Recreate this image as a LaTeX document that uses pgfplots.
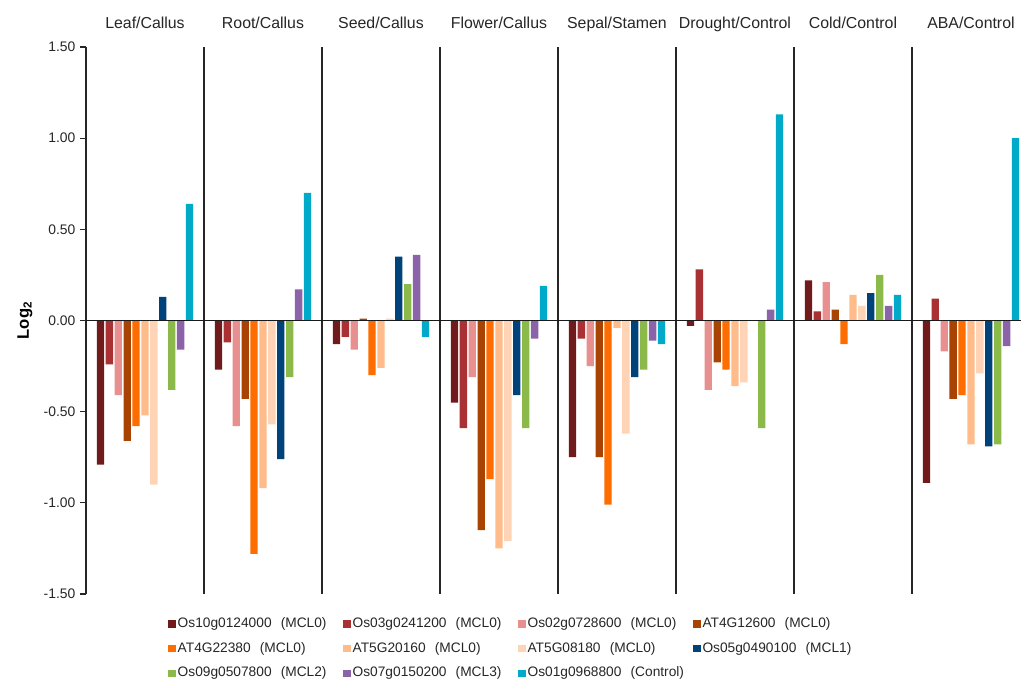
\documentclass[border=0pt]{standalone}
\usepackage{fontspec}
\setmainfont{Liberation Sans}
\usepackage{pgfplots}
\usepackage{pgfplotstable}
\pgfplotsset{compat=1.18}
\definecolor{c1}{RGB}{112,26,27}
\definecolor{c2}{RGB}{169,48,51}
\definecolor{c3}{RGB}{232,144,143}
\definecolor{c4}{RGB}{168,67,3}
\definecolor{c5}{RGB}{255,109,0}
\definecolor{c6}{RGB}{255,188,138}
\definecolor{c7}{RGB}{255,211,181}
\definecolor{c8}{RGB}{0,66,122}
\definecolor{c9}{RGB}{139,186,74}
\definecolor{c10}{RGB}{138,99,168}
\definecolor{c11}{RGB}{0,170,200}
\pgfplotstableread{
g   s1    s2    s3    s4    s5    s6    s7    s8    s9    s10   s11
0.5 -0.79 -0.24 -0.41 -0.66 -0.58 -0.52 -0.90  0.13 -0.38 -0.16  0.64
1.5 -0.27 -0.12 -0.58 -0.43 -1.28 -0.92 -0.57 -0.76 -0.31  0.17  0.70
2.5 -0.13 -0.09 -0.16  0.01 -0.30 -0.26  0.01  0.35  0.20  0.36 -0.09
3.5 -0.45 -0.59 -0.31 -1.15 -0.87 -1.25 -1.21 -0.41 -0.59 -0.10  0.19
4.5 -0.75 -0.10 -0.25 -0.75 -1.01 -0.04 -0.62 -0.31 -0.27 -0.11 -0.13
5.5 -0.03  0.28 -0.38 -0.23 -0.27 -0.36 -0.34  0.00 -0.59  0.06  1.13
6.5  0.22  0.05  0.21  0.06 -0.13  0.14  0.08  0.15  0.25  0.08  0.14
7.5 -0.89  0.12 -0.17 -0.43 -0.41 -0.68 -0.29 -0.69 -0.68 -0.14  1.00
}\datatable
\begin{document}
\begin{tikzpicture}
\useasboundingbox (0,0) rectangle (765.75pt,510pt);
\begin{axis}[
  at={(64.5pt,64.5pt)}, anchor=south west,
  scale only axis, width=701.25pt, height=410.25pt,
  xmin=0, xmax=7.924, ymin=-1.5, ymax=1.5,
  axis y line*=left, axis x line*=top,
  x axis line style={draw=none},
  y axis line style={black!85, line width=0.8pt},
  xtick={0.5,1.5,2.5,3.5,4.5,5.5,6.5,7.5},
  xticklabels={Leaf/Callus,Root/Callus,Seed/Callus,Flower/Callus,Sepal/Stamen,Drought/Control,Cold/Control,ABA/Control},
  xticklabel style={font=\fontsize{11.9}{14}\selectfont, anchor=base, yshift=9.5pt, text=black!85},
  major x tick style={draw=none},
  ytick={-1.5,-1,-0.5,0,0.5,1,1.5},
  tick align=outside,
  major tick length=4.5pt,
  major y tick style={black!85, line width=0.8pt},
  /pgf/number format/assume math mode=true,
  yticklabel style={/pgf/number format/fixed, /pgf/number format/fixed zerofill, /pgf/number format/precision=2, font=\fontsize{10.4}{12}\selectfont, text=black!85},
  ylabel={Log\textsubscript{2}},
  every axis y label/.style={at={(rel axis cs:0,0.5)}, xshift=-45.75pt, rotate=90, anchor=center, font=\fontsize{12.5}{14}\selectfont\bfseries},
  ybar, bar width=0.062,
  legend image code/.code={\fill[#1] (0pt,-2.8pt) rectangle (5.6pt,2.8pt);},
  legend columns=4,
  legend cell align=left,
  legend style={draw=none, fill=none, at={(0,0)}, anchor=north west, xshift=61.5pt, yshift=-13pt,
    font=\fontsize{10.3}{12}\selectfont, text=black!85, inner sep=0pt, row sep=0pt, column sep=0pt,
    nodes={inner xsep=1.5pt, inner ysep=4pt, text height=8pt, text depth=2.5pt, text width=122.6pt, align=left}},
]
\addplot[fill=c1, draw=none, bar shift=-0.3775] table[x=g,y=s1]{\datatable};
\addplot[fill=c2, draw=none, bar shift=-0.302] table[x=g,y=s2]{\datatable};
\addplot[fill=c3, draw=none, bar shift=-0.2265] table[x=g,y=s3]{\datatable};
\addplot[fill=c4, draw=none, bar shift=-0.151] table[x=g,y=s4]{\datatable};
\addplot[fill=c5, draw=none, bar shift=-0.0755] table[x=g,y=s5]{\datatable};
\addplot[fill=c6, draw=none, bar shift=0] table[x=g,y=s6]{\datatable};
\addplot[fill=c7, draw=none, bar shift=0.0755] table[x=g,y=s7]{\datatable};
\addplot[fill=c8, draw=none, bar shift=0.151] table[x=g,y=s8]{\datatable};
\addplot[fill=c9, draw=none, bar shift=0.2265] table[x=g,y=s9]{\datatable};
\addplot[fill=c10, draw=none, bar shift=0.302] table[x=g,y=s10]{\datatable};
\addplot[fill=c11, draw=none, bar shift=0.3775] table[x=g,y=s11]{\datatable};
\legend{Os10g0124000~~(MCL0),Os03g0241200~~(MCL0),Os02g0728600~~(MCL0),AT4G12600~~(MCL0),AT4G22380~~(MCL0),AT5G20160~~(MCL0),AT5G08180~~(MCL0),Os05g0490100~~(MCL1),Os09g0507800~~(MCL2),Os07g0150200~~(MCL3),Os01g0968800~~(Control)}
\pgfplotsinvokeforeach{1,2,3,4,5,6,7}{\draw[black!85, line width=0.8pt] (axis cs:#1,-1.5) -- (axis cs:#1,1.5);}
\draw[black!90, line width=0.8pt] (axis cs:0,0) -- (axis cs:7.924,0);
\end{axis}
\end{tikzpicture}
\end{document}
